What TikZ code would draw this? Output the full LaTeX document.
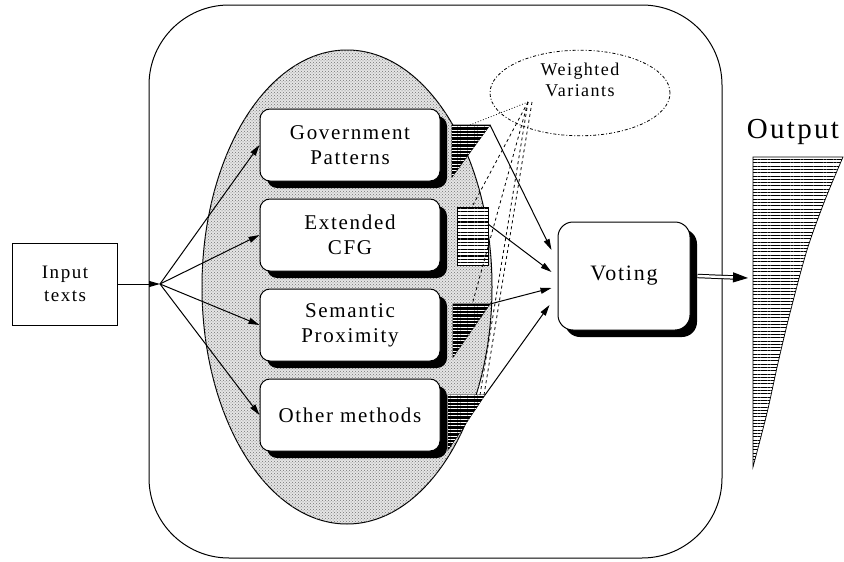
\documentclass[tikz,border=0pt]{standalone}
\usepackage{fontspec}
\setmainfont{Liberation Serif}[LetterSpace=8]
\usepackage{tikz}
\usetikzlibrary{arrows.meta, positioning, calc, shapes.geometric, shadows, patterns, patterns.meta}

\begin{document}
\begin{tikzpicture}[
  x=1pt, y=-1pt, line width=1pt,
  node distance=17pt,
  method/.style={draw, fill=white, rounded corners=10pt, minimum width=180pt,
                 minimum height=72pt, align=center, font=\fontsize{21}{25}\selectfont,
                 drop shadow={shadow xshift=7pt, shadow yshift=-7pt, opacity=1, fill=black}},
  pool/.style={fill=black!10, postaction={pattern=crosshatch dots, pattern color=black!55}},
  wdark/.style={draw, line width=0.7pt, fill=black,
                postaction={pattern={Lines[angle=0, distance=3.4pt, line width=1pt]}, pattern color=white}},
  wlight/.style={draw, line width=0.7pt, fill=white,
                 postaction={pattern={Lines[angle=0, distance=3.4pt, line width=1.2pt]}, pattern color=black}},
  outlist/.style={draw, line width=0.7pt,
                  postaction={pattern={Lines[angle=0, distance=3.3pt, line width=0.6pt]}, pattern color=black}},
  arr/.style={-{Triangle[length=11pt, width=6pt]}},
  dbl/.style={double, double distance=2.4pt, -{Triangle[length=15pt, width=10pt]}}
]
  \useasboundingbox (0,0) rectangle (844,562);

  % Frame and method pool
  \node[draw, rounded corners=80pt, minimum width=573pt, minimum height=553pt] (frame) at (435.5,281.5) {};
  \node[ellipse, draw, pool, minimum width=290pt, minimum height=474pt] (pool) at (347,287) {};

  % Methods
  \node[method] (gov) at (350,145) {Government\\Patterns};
  \node[method, below=of gov] (cfg) {Extended\\CFG};
  \node[method, below=of cfg] (sem) {Semantic\\Proximity};
  \node[method, below=of sem] (other) {Other methods};

  % Weighted variant lists
  \draw[wdark] (452,125) coordinate (tg) -- ++(38,0) coordinate (tgr) -- ++(-38,52) -- cycle;
  \draw[wlight] (457,207) coordinate (tc) rectangle (488,265);
  \draw[wdark] (453,304) coordinate (ts) -- ++(37,0) coordinate (tsr) -- ++(-37,53) -- cycle;
  \draw[wdark] (448,395) coordinate (to) -- ++(37,0) coordinate (tor) -- ++(-37,55) -- cycle;
  \coordinate (tcr) at (488,224);

  % Voting and input
  \node[method, minimum width=132pt, minimum height=108pt, rounded corners=15pt,
        font=\fontsize{22}{26}\selectfont] (vote) at (624,276) {Voting};
  \node[draw, minimum width=105pt, minimum height=82pt, align=center,
        font=\fontsize{19}{23}\selectfont] (input) at (65,284) {Input\\texts};
  \coordinate (hub) at (160,284);

  % Weighted variants label
  \node[ellipse, draw, dash dot, line width=0.8pt, minimum width=180pt, minimum height=70pt,
        align=center, font=\fontsize{18}{21}\selectfont, inner sep=0pt] (wv) at (580,93)
    {Weighted\\Variants\\[6pt]};
  \coordinate (wvp) at (528,102);

  % Output list
  \node[font=\fontsize{29}{33}\selectfont] (outlbl) at (793,132) {Output};
  \draw[outlist] (753,157) -- plot[smooth] coordinates {(843,157) (825,200) (807,250) (790,313)
    (778,363) (767,413) (753,467)} -- cycle;
  \coordinate (outtip) at (748,278);

  % Arrows
  \draw[arr] (input) -- (hub);
  \foreach \m in {gov,cfg,sem,other}
    \draw[arr] (hub) -- (\m.west);

  \draw[arr] (tgr) -- ($(vote.west)+(-6,-26)$);
  \draw[arr] (tcr) -- ($(vote.west)+(-6,-4)$);
  \draw[arr] (tsr) -- ($(vote.west)+(-6,12)$);
  \draw[arr] (tor) -- ($(vote.west)+(-8,29)$);
  \draw[dbl] ([xshift=7pt]vote.east) -- (outtip);

  % Variant links
  \draw[dotted, line width=0.8pt] (wvp) -- ($(tg)+(18,0)$);
  \draw[dashed, line width=0.8pt] (wvp) -- ($(tc)+(16,-2)$);
  \draw[dashed, line width=0.8pt] (wvp) -- ($(ts)+(19,1)$);
  \draw[dashed, line width=0.8pt] (wvp) -- ($(to)+(32,0)$);
  \draw[dashed, line width=0.8pt] ($(wvp)+(4,0)$) -- ($(to)+(36,0)$);
\end{tikzpicture}
\end{document}
